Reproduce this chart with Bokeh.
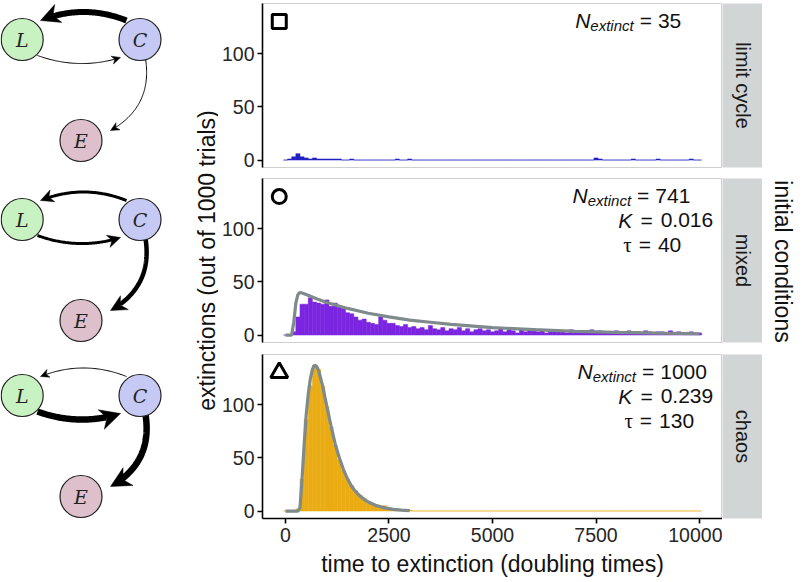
import numpy as np
from bokeh.plotting import figure
from bokeh.layouts import row, column
from bokeh.models import Range1d
from bokeh.core.properties import value
from bokeh.embed import file_html
from bokeh.resources import INLINE

FONT = "Liberation Sans"

# ---------------- data ----------------
bin_centers = list(range(0, 10001, 100))   # histogram bins (width 100)
BIN_W = 100

# limit cycle (sparse histogram)
lc_bins = [100, 200, 300, 400, 500, 600, 700, 800, 900, 1000, 1100, 1200, 1300,
           1600, 2700, 3000, 7500, 7600, 8400, 9000, 9800]
lc_counts = [1, 3, 6, 3, 2, 1, 2, 1, 1, 1, 1, 1, 1,
             1, 1, 1, 2, 1, 1, 1, 1]

# mixed (all 101 bins)
mixed_counts = [0, 0, 3, 17, 29, 29, 35, 31, 30, 29,
                33, 27, 30, 26, 25, 21, 20, 17, 14, 15,
                12, 11, 10, 17, 14, 11, 11, 9, 8, 10,
                7, 8, 6, 7, 5, 9, 6, 5, 7, 4,
                6, 5, 7, 4, 6, 3, 5, 6, 4, 5,
                3, 4, 6, 3, 5, 4, 2, 5, 3, 4,
                6, 3, 4, 2, 5, 3, 4, 3, 2, 5,
                3, 4, 2, 3, 5, 2, 4, 3, 2, 3,
                4, 2, 3, 4, 2, 3, 2, 4, 3, 2,
                3, 3, 2, 4, 2, 3, 2, 1, 3, 2,
                2]
mixed_curve_t = [0, 100, 150, 200, 250, 300, 350, 400, 500, 750, 1000, 1500, 2000,
                 2500, 3000, 3500, 4000, 5000, 6000, 7000, 8000, 9000, 10000]
mixed_curve_n = [0, 0, 0, 12, 30, 38, 40, 39.5, 38, 34, 30.5, 25, 20.5,
                 17, 14, 12, 10, 7, 5, 3.5, 2.5, 1.8, 1.2]

# chaos (bins 0..3000, rest zero)
chaos_bins = list(range(0, 3001, 100))
chaos_counts = [0, 0, 0, 2, 30, 86, 118, 137, 133, 117,
                98, 79, 62, 48, 38, 30, 24, 19, 15, 12,
                9, 7, 6, 4, 5, 3, 2, 2, 1, 1,
                1]
chaos_curve_t = [0, 300, 350, 400, 450, 500, 550, 600, 650, 700, 750, 800, 900, 1000,
                 1100, 1200, 1300, 1400, 1500, 1600, 1700, 1800, 1900, 2000, 2200,
                 2400, 2600, 2800, 3000]
chaos_curve_n = [0, 0, 3, 30, 62, 90, 110, 124, 133, 137, 136, 132, 117, 98,
                 80, 63, 50, 39, 30, 23, 18, 14, 11, 8.5, 5,
                 3, 1.6, 0.8, 0.4]

strip_labels = ["limit cycle", "mixed", "chaos"]
n_extinct = ["35", "741", "1000"]
k_values = [None, "0.016", "0.239"]
tau_values = [None, "40", "130"]
y_ticks = [0, 50, 100]
x_ticks = [0, 2500, 5000, 7500, 10000]

bar_colors = ["#2121C2", "#7B25E0", "#EAAC12"]
CURVE_COLOR = "#7E8A8B"
STRIP_GRAY = "#D2D5D5"

# ---------------- helpers ----------------
def full_counts(bins, counts):
    arr = np.zeros(len(bin_centers))
    for b, c in zip(bins, counts):
        arr[bin_centers.index(b)] = c
    return arr

ARIAL_W = {' ': 278, '=': 584, '.': 278, 'N': 722, 'K': 667, 'e': 556, 'x': 500,
           't': 278, 'i': 222, 'n': 556, 'c': 500, '\u03c4': 450}
for dgt in "0123456789":
    ARIAL_W[dgt] = 556

def text_w(s, size):
    return sum(ARIAL_W.get(ch, 556) for ch in s) * size / 1000.0

def add_expr(p, x_right, y, pieces):
    """pieces: (text, size, style, dy, gap_before_px, font)"""
    off = 0.0
    for txt, size, style, dy, gap, fnt in reversed(pieces):
        p.text(x=[x_right], y=[y + dy], text=[txt], x_offset=-off,
               text_align="right", text_baseline="middle",
               text_font=value(fnt), text_font_size=f"{size}px",
               text_font_style=style, text_color="#111111")
        off += text_w(txt, size) + gap

FRAME_W, FRAME_H = 462, 164
LEFT_B = 42
TOPS = [3, 6, 6]
BOTS = [5, 6, 62]

def make_panel(i, counts, curve=None, marker="square", show_x=False):
    top_b, bot_b = TOPS[i], BOTS[i]
    p = figure(width=LEFT_B + FRAME_W, height=top_b + FRAME_H + bot_b,
               x_range=Range1d(-555, 10555), y_range=Range1d(-7, 147),
               output_backend="svg", toolbar_location=None,
               x_axis_location="below" if show_x else None,
               min_border_left=LEFT_B, min_border_right=0,
               min_border_top=top_b, min_border_bottom=bot_b,
               outline_line_color="#CFCFCF", outline_line_width=1,
               background_fill_color="white", border_fill_color="white")
    p.grid.visible = False
    c = np.asarray(bin_centers, dtype=float)
    p.quad(left=c - BIN_W / 2, right=c + BIN_W / 2, bottom=0, top=counts,
           fill_color=bar_colors[i], line_color=bar_colors[i],
           line_alpha=1.0, line_width=0.5)
    if curve is not None:
        p.line(curve[0], curve[1], line_color=CURVE_COLOR, line_width=3.2)
    p.scatter(x=[-150], y=[130], marker=marker, size=14 if marker != "triangle" else 17,
              fill_color=None, line_color="black", line_width=3)
    # annotations
    XR = {0: [9560], 1: [9780, 10330, 9560], 2: [10180, 10330, 9870]}[i]
    add_expr(p, XR[0], 131, [("N", 21, "italic", 0, 0, FONT),
                             ("extinct", 15, "italic", -4.5, 0, FONT),
                             ("=", 21, "normal", 0, 6, FONT),
                             (n_extinct[i], 21, "normal", 0, 6, FONT)])
    if k_values[i] is not None:
        add_expr(p, XR[1], 108, [("K", 21, "italic", 0, 0, FONT),
                                 ("=", 21, "normal", 0, 8, FONT),
                                 (k_values[i], 21, "normal", 0, 8, FONT)])
        add_expr(p, XR[2], 85, [("\u03c4", 21, "normal", 0, 0, "Liberation Serif"),
                                ("=", 21, "normal", 0, 7, FONT),
                                (tau_values[i], 21, "normal", 0, 7, FONT)])
    # axes
    ya = p.yaxis[0]
    ya.ticker = y_ticks
    ya.major_label_text_font = FONT
    ya.major_label_text_font_size = "19.5px"
    ya.major_label_text_color = "#262626"
    ya.major_label_standoff = 3
    ya.axis_line_width = 1.6
    ya.major_tick_line_width = 1.6
    ya.major_tick_out = 5
    ya.major_tick_in = 0
    ya.minor_tick_out = 0
    ya.minor_tick_in = 0
    if show_x:
        xa = p.xaxis[0]
        xa.ticker = x_ticks
        xa.major_label_text_font = FONT
        xa.major_label_text_font_size = "19.5px"
        xa.major_label_text_color = "#262626"
        xa.major_label_standoff = 4
        xa.axis_line_width = 1.6
        xa.major_tick_line_width = 1.6
        xa.major_tick_out = 5
        xa.major_tick_in = 0
        xa.minor_tick_out = 0
        xa.minor_tick_in = 0
        xa.axis_label = "time to extinction (doubling times)"
        xa.axis_label_text_font = FONT
        xa.axis_label_text_font_size = "23px"
        xa.axis_label_text_font_style = "normal"
        xa.axis_label_text_color = "#111111"
        xa.axis_label_standoff = 6
    return p

def make_strip(i, label):
    top_b, bot_b = TOPS[i], BOTS[i]
    s = figure(width=40, height=top_b + FRAME_H + bot_b,
               x_range=Range1d(0, 1), y_range=Range1d(0, 1),
               output_backend="svg", toolbar_location=None,
               x_axis_location=None, y_axis_location=None,
               min_border_left=0, min_border_right=0,
               min_border_top=top_b, min_border_bottom=bot_b,
               outline_line_color=None, background_fill_color=STRIP_GRAY,
               border_fill_color="white")
    s.grid.visible = False
    s.text(x=[0.5], y=[0.5], text=[label], angle=-np.pi / 2,
           text_align="center", text_baseline="middle",
           text_font=value(FONT), text_font_size="20px", text_color="#1a1a1a")
    return s

# ---------------- panels ----------------
p1 = make_panel(0, full_counts(lc_bins, lc_counts), None, "square")
p2 = make_panel(1, np.asarray(mixed_counts, dtype=float), (mixed_curve_t, mixed_curve_n), "circle")
p3 = make_panel(2, full_counts(chaos_bins, chaos_counts), (chaos_curve_t, chaos_curve_n),
                "triangle", show_x=True)
s1 = make_strip(0, strip_labels[0])
s2 = make_strip(1, strip_labels[1])
s3 = make_strip(2, strip_labels[2])

TOTAL_H = sum(TOPS) + sum(BOTS) + 3 * FRAME_H   # 580

# ---------------- diagrams ----------------
DW = 194
d = figure(width=DW, height=TOTAL_H, x_range=Range1d(0, DW), y_range=Range1d(TOTAL_H, 0),
           output_backend="svg", toolbar_location=None,
           x_axis_location=None, y_axis_location=None, min_border=0,
           outline_line_color=None, background_fill_color="white",
           border_fill_color="white")
d.grid.visible = False

diag_rows = [39, 219, 395]             # y of L and C nodes in each diagram
E_DROP = 101
edge_widths = [(6.0, 1.0, 1.0),         # (C->L, L->C, C->E)
               (3.0, 3.0, 4.5),
               (1.0, 6.5, 6.5)]
R = 21

def bezier_arrow(p0, pc, p2, w):
    t = np.linspace(0, 1, 80)[:, None]
    P0, PC, P2 = map(np.asarray, (p0, pc, p2))
    pts = (1 - t) ** 2 * P0 + 2 * (1 - t) * t * PC + t ** 2 * P2
    dvec = P2 - PC
    dvec = dvec / np.hypot(*dvec)
    nvec = np.array([-dvec[1], dvec[0]])
    Lh = 6.5 + 2.1 * w
    hw = 3.0 + 1.1 * w
    tip = P2
    notch = tip - 0.7 * Lh * dvec
    dist = np.hypot(*(pts - tip).T)
    keep = pts[dist >= 0.7 * Lh]
    keep = np.vstack([keep, notch])
    head = np.array([tip, tip - Lh * dvec + hw * nvec, notch, tip - Lh * dvec - hw * nvec])
    return keep, head

lx, cx, ex = 21.7, 139.5, 80.5
xs_l, ys_l, ws_l, hx, hy = [], [], [], [], []
for oy, (w_cl, w_lc, w_ce) in zip(diag_rows, edge_widths):
    L = np.array([lx, oy]); C = np.array([cx, oy]); E = np.array([ex, oy + E_DROP])
    edges = []
    s = C + [-13.5, -19]; e = L + [18.3, -19]
    edges.append((s, [(s[0] + e[0]) / 2, oy - 36], e, w_cl))
    s = L + [15.3, 16]; e = C + [-19.5, 18]
    edges.append((s, [(s[0] + e[0]) / 2, oy + 31], e, w_lc))
    s = C + [5.5, 19]; e = E + [29.5, -10]
    edges.append((s, C + [13, 67], e, w_ce))
    for s_, c_, e_, w in edges:
        line, head = bezier_arrow(s_, c_, e_, w)
        xs_l.append(list(line[:, 0])); ys_l.append(list(line[:, 1])); ws_l.append(w)
        hx.append(list(head[:, 0])); hy.append(list(head[:, 1]))

for xs_, ys_, w in zip(xs_l, ys_l, ws_l):
    d.line(xs_, ys_, line_color="black", line_width=w)
d.patches(hx, hy, fill_color="black", line_color="black", line_width=0.5)

node_x, node_y, node_fill, node_lab = [], [], [], []
for oy in diag_rows:
    node_x += [lx, cx, ex]
    node_y += [oy, oy, oy + E_DROP]
    node_fill += ["#C8F2C1", "#C6C9F4", "#DDC0CB"]
    node_lab += ["L", "C", "E"]
d.circle(x=node_x, y=node_y, radius=R, fill_color=node_fill, line_color="#222222", line_width=1.2)
d.text(x=node_x, y=node_y, text=node_lab, text_align="center", text_baseline="middle",
       text_font=value("DejaVu Serif"), text_font_style="italic", text_font_size="19px",
       text_color="#222222")

# shared y-axis title (own narrow strip so that it is not clipped)
yl = figure(width=24, height=TOTAL_H, x_range=Range1d(0, 24), y_range=Range1d(TOTAL_H, 0),
            output_backend="svg", toolbar_location=None,
            x_axis_location=None, y_axis_location=None, min_border=0,
            outline_line_color=None, background_fill_color="white",
            border_fill_color="white")
yl.grid.visible = False
yl.text(x=[12], y=[260], text=["extinctions (out of 1000 trials)"], angle=np.pi / 2,
        text_align="center", text_baseline="middle", text_font=value(FONT),
        text_font_size="23px", text_color="#111111")

# right-side title
rf = figure(width=38, height=TOTAL_H, x_range=Range1d(0, 38), y_range=Range1d(TOTAL_H, 0),
            output_backend="svg", toolbar_location=None,
            x_axis_location=None, y_axis_location=None, min_border=0,
            outline_line_color=None, background_fill_color="white",
            border_fill_color="white")
rf.grid.visible = False
rf.text(x=[20], y=[261], text=["initial conditions"], angle=-np.pi / 2,
        text_align="center", text_baseline="middle", text_font=value(FONT),
        text_font_size="23px", text_color="#111111")

panels = column(row(p1, s1, spacing=0), row(p2, s2, spacing=0), row(p3, s3, spacing=0), spacing=0)
layout = row(d, yl, panels, rf, spacing=0)

open("out.html", "w").write(file_html(layout, INLINE))
